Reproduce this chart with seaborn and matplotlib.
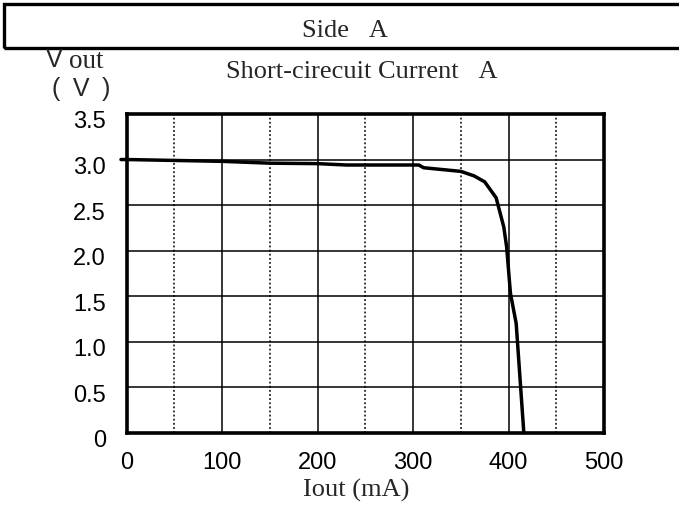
import matplotlib
matplotlib.use("Agg")
import matplotlib.pyplot as plt
import matplotlib.transforms as mtransforms
from matplotlib.patches import Rectangle
from matplotlib.ticker import MultipleLocator
import seaborn as sns
import pandas as pd

# ---- data ----
iout_ma = [-6, 0, 100, 150, 200, 230, 306, 311, 350, 364, 375, 387, 395, 398, 402, 408, 416]
vout_v = [3.0, 3.0, 2.98, 2.96, 2.955, 2.94, 2.94, 2.91, 2.87, 2.82, 2.755, 2.58, 2.26, 2.04, 1.53, 1.20, 0.0]
x_ticks = [0, 100, 200, 300, 400, 500]
y_ticks = [0, 0.5, 1.0, 1.5, 2.0, 2.5, 3.0, 3.5]
y_tick_labels = ["0", "0.5", "1.0", "1.5", "2.0", "2.5", "3.0", "3.5"]
header = "Side\u2002\u2005A"
title = "Short-cirecuit Current\u2002\u2005A"
xlabel = "Iout (mA)"

df = pd.DataFrame({"Iout": iout_ma, "Vout": vout_v})

sns.set_theme(style="white")
plt.rcParams["font.family"] = ["Liberation Sans", "DejaVu Sans"]

W, H = 679, 509
fig = plt.figure(figsize=(W / 100, H / 100), dpi=100)
left, right, top, bottom = 126.7, 604.0, 114.0, 432.7
ax = fig.add_axes([left / W, 1 - bottom / H, (right - left) / W, (bottom - top) / H])

sns.lineplot(data=df, x="Iout", y="Vout", ax=ax, color="black", lw=2.5,
             sort=False, estimator=None, clip_on=False, zorder=5)

ax.set_xlim(0, 500)
ax.set_ylim(0, 3.5)
ax.set_xticks(x_ticks)
ax.set_yticks(y_ticks)
ax.set_yticklabels(y_tick_labels)
ax.xaxis.set_minor_locator(MultipleLocator(50))
ax.grid(which="major", axis="both", color="black", lw=1.1, ls="-")
ax.grid(which="minor", axis="x", color="black", lw=1.1, ls=(0, (1.2, 1.5)))
ax.tick_params(which="both", length=0, labelsize=17, colors="black")
ax.tick_params(axis="x", pad=14)
ax.tick_params(axis="y", pad=15)
for sp in ax.spines.values():
    sp.set_visible(True)
    sp.set_color("black")
    sp.set_linewidth(2.6)
ax.set_xlabel("")
ax.set_ylabel("")

# y tick labels sit slightly below their grid lines
off = mtransforms.ScaledTranslation(0, -6 / 100, fig.dpi_scale_trans)
for lab in ax.get_yticklabels():
    lab.set_transform(lab.get_transform() + off)

serif = ["Liberation Serif", "DejaVu Serif"]
fig.text(362 / W, 1 - 72 / H, title, ha="center", va="center", fontsize=19, family=serif)
fig.text(356 / W, 1 - 490 / H, xlabel, ha="center", va="center", fontsize=19, family=serif)
fig.text(345 / W, 1 - 31 / H, header, ha="center", va="center", fontsize=19, family=serif)

# Vout (V) label
fig.text(46 / W, 1 - 60 / H, "V", ha="left", va="center", fontsize=18, family=["Liberation Sans"])
fig.text(69 / W, 1 - 61 / H, "out", ha="left", va="center", fontsize=19.5, family=serif)
fig.text(81 / W, 1 - 89 / H, "(\u2002V\u2002)", ha="center", va="center", fontsize=18, family=["Liberation Sans"])

# header box
fig.add_artist(Rectangle((4 / W, 1 - 47.5 / H), (W + 10) / W, 43.5 / H,
                         transform=fig.transFigure, fill=False, lw=2.4,
                         edgecolor="black", clip_on=False))

fig.savefig("out.png", dpi=100, facecolor="white")
